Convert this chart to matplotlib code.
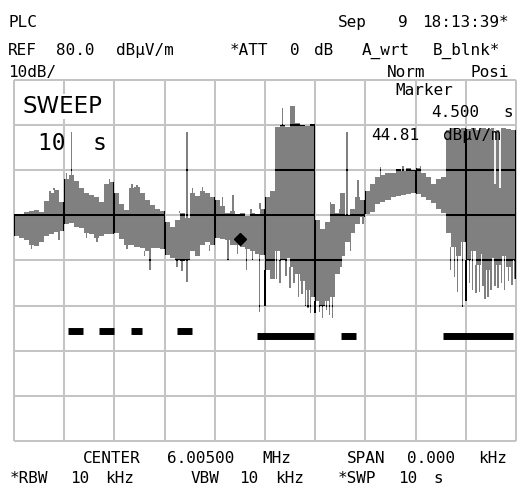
import re

import numpy as np
import matplotlib
matplotlib.use("Agg")
import matplotlib.pyplot as plt
from matplotlib.path import Path
from matplotlib.patches import PathPatch

W, H, DPI = 529, 486, 100

# zero-span sweep over 10 s, trace envelope in 0.1 s columns (dBuV/m)
COL_STEP = 0.1
col_top = [
    50.3, 50.2, 50.8, 51.0, 51.2, 50.8, 53.2, 55.0, 55.6, 53.0,
    58.0, 59.0, 57.6, 56.0, 55.0, 54.5, 54.0, 53.0, 57.0, 57.3,
    55.0, 52.5, 51.2, 56.0, 56.2, 55.0, 53.5, 52.4, 51.5, 51.0,
    48.5, 47.5, 49.0, 50.5, 49.5, 55.0, 54.2, 55.5, 55.0, 54.0,
    53.5, 52.0, 50.5, 51.0, 50.2, 50.5, 49.8, 50.5, 50.2, 51.5,
    54.0, 55.3, 69.5, 70.0, 69.6, 74.2, 70.4, 70.0, 69.8, 70.2,
    49.0, 47.0, 48.5, 52.5, 50.5, 55.0, 50.0, 51.5, 54.0, 53.5,
    55.5, 57.0, 58.5, 59.0, 59.5, 59.3, 60.2, 59.8, 60.5, 60.0,
    60.5, 59.5, 58.5, 57.0, 58.0, 58.5, 69.0, 69.3, 69.0, 69.3,
    69.2, 69.3, 69.0, 69.3, 69.2, 69.3, 69.0, 69.3, 69.2, 69.0,
]
col_bot = [
    45.5, 45.0, 44.5, 43.5, 43.2, 44.0, 45.4, 45.8, 46.4, 46.5,
    48.0, 48.2, 47.5, 47.2, 46.2, 45.8, 45.0, 45.5, 45.8, 45.8,
    46.0, 44.8, 43.5, 43.5, 43.0, 42.8, 42.0, 42.8, 42.8, 42.5,
    41.3, 40.6, 40.0, 39.9, 40.2, 42.0, 41.0, 43.5, 44.0, 43.5,
    45.0, 44.8, 44.5, 43.5, 43.5, 43.0, 42.5, 42.0, 41.5, 41.3,
    38.0, 36.0, 42.0, 40.0, 40.5, 38.5, 37.0, 35.5, 33.5, 32.0,
    31.0, 30.0, 31.0, 32.0, 37.0, 41.0, 44.0, 46.0, 48.0, 49.6,
    50.2, 50.8, 52.5, 53.0, 53.5, 54.0, 54.2, 54.5, 54.8, 55.0,
    54.8, 54.0, 53.5, 52.8, 51.5, 50.5, 46.0, 43.0, 41.0, 44.0,
    40.0, 42.0, 39.0, 41.5, 38.0, 40.5, 39.0, 41.0, 38.5, 40.0,
]

# single-sample glitches above / below the envelope
spike_up_t = [0.72, 0.80, 1.05, 1.15, 1.90, 2.35, 2.45, 3.30, 3.45, 3.55,
              3.75, 4.15, 4.36, 4.72, 4.90, 5.35, 6.30, 6.48, 6.63, 6.85,
              7.30, 7.75, 8.10]
spike_up_db = [55.4, 56.0, 59.5, 68.5, 58.0, 57.0, 56.8, 51.0, 68.5, 56.0,
               56.2, 54.0, 54.6, 51.5, 52.7, 73.7, 53.0, 51.5, 68.5, 57.8,
               60.8, 61.0, 61.0]
spike_dn_t = [0.35, 0.90, 1.45, 1.65, 2.25, 2.60, 2.71, 3.25, 3.35, 3.45,
              3.90, 4.26, 4.45, 4.63, 4.75, 4.89, 5.00, 5.23, 5.30, 5.42,
              5.50, 5.58, 5.67, 5.74, 5.81, 5.86, 5.91, 6.00, 6.08, 6.14,
              6.22, 6.28, 6.35, 6.51, 6.70, 6.95, 8.70, 8.77, 8.84, 8.94,
              9.00, 9.07, 9.13, 9.20, 9.27, 9.34, 9.38, 9.44, 9.50, 9.58,
              9.64, 9.71, 9.77, 9.85, 9.92, 9.98]
spike_dn_db = [42.5, 44.5, 45.0, 44.0, 42.5, 41.0, 37.9, 38.5, 37.6, 35.2,
               42.0, 40.0, 41.5, 38.0, 40.0, 28.6, 30.0, 36.0, 35.0, 36.5,
               34.0, 35.0, 31.9, 32.5, 30.0, 29.5, 28.3, 28.3, 28.5, 27.2,
               29.0, 28.0, 27.2, 38.5, 42.0, 48.0, 38.0, 36.4, 33.0, 29.7,
               31.0, 35.0, 33.5, 32.7, 33.0, 34.3, 31.5, 32.0, 33.5, 34.3,
               34.0, 35.0, 33.5, 35.5, 34.5, 36.0]
# drop-outs inside the last burst
notch_t = [9.58, 9.69]
notch_db = [57.0, 56.0]

marker_t = 4.5
marker_db = 44.81

# PLC on-periods
bar_start = [1.07, 1.69, 2.34, 3.24, 4.85, 6.51, 8.55]
bar_end = [1.37, 2.00, 2.54, 3.55, 5.98, 6.81, 9.95]
bar_db = [24.3, 24.3, 24.3, 24.3, 23.3, 23.3, 23.3]

GRID_LIGHT = "#c4c4c4"
TRACE = "#808080"
GRID_LW = 1.45
SPIKE_HW = 0.014
PITCH = 11.95  # px per character cell of the screen font
FONT_SIZE = 11.5

fig = plt.figure(figsize=(W / DPI, H / DPI), dpi=DPI)
fig.patch.set_facecolor("white")
ax = fig.add_axes([14 / W, 45 / H, 502 / W, 361 / H])
ax.set_xlim(0, 10)
ax.set_ylim(0, 80)
ax.set_xticks([])
ax.set_yticks([])
for sp in ax.spines.values():
    sp.set_visible(False)

gx = np.arange(0, 11)
gy = np.arange(0, 81, 10)
ax.vlines(gx, 0, 80, colors=GRID_LIGHT, lw=GRID_LW, zorder=1, clip_on=False)
ax.hlines(gy, 0, 10, colors=GRID_LIGHT, lw=GRID_LW, zorder=1, clip_on=False)

# trace as one compound path of non-overlapping rectangles
verts, codes = [], []


def add_rect(x0, x1, y0, y1):
    verts.extend([(x0, y0), (x1, y0), (x1, y1), (x0, y1), (x0, y0)])
    codes.extend([Path.MOVETO, Path.LINETO, Path.LINETO, Path.LINETO,
                  Path.CLOSEPOLY])


def col_of(t):
    return min(int(np.floor(t / COL_STEP + 1e-6)), len(col_top) - 1)


for i, (hi, lo) in enumerate(zip(col_top, col_bot)):
    add_rect(i * COL_STEP, (i + 1) * COL_STEP, lo, hi)
for t, db in zip(spike_up_t, spike_up_db):
    top = col_top[col_of(t)]
    if db > top:
        add_rect(t - SPIKE_HW, t + SPIKE_HW, top, db)
for t, db in zip(spike_dn_t, spike_dn_db):
    bot = col_bot[col_of(t)]
    if db < bot:
        add_rect(t - SPIKE_HW, t + SPIKE_HW, db, bot)

trace = PathPatch(Path(verts, codes), facecolor=TRACE, edgecolor="none",
                  transform=ax.transData, zorder=2)
ax.add_patch(trace)

# grid turns black where the trace covers it
bv = ax.vlines(gx, 0, 80, colors="black", lw=GRID_LW, zorder=3)
bh = ax.hlines(gy, 0, 10, colors="black", lw=GRID_LW, zorder=3)
bv.set_clip_path(trace)
bh.set_clip_path(trace)

ax.vlines(notch_t, notch_db, [col_top[col_of(t)] for t in notch_t],
          colors="white", lw=1.3, zorder=4)

ax.plot(marker_t, marker_db, "D", ms=6.6, color="black", zorder=5)
ax.hlines(bar_db, bar_start, bar_end, colors="black", lw=5, zorder=5)


def put(x, y, s, size=FONT_SIZE):
    """Screen text on a fixed character grid; each word starts in its cell."""
    for m in re.finditer(r"\S+", s):
        fig.text((x + m.start() * PITCH) / W, 1 - y / H, m.group(),
                 fontsize=size, family="DejaVu Sans Mono", color="black",
                 va="baseline", ha="left")


def put_right(x_end, y, s, size=FONT_SIZE):
    put(x_end - len(s) * PITCH, y, s, size)


put(8, 27, "PLC")
put(338, 27, "Sep  9 18:13:39*")
put(8, 55, "REF 80.0 dB\u03bcV/m")
put(230, 55, "*ATT 0 dB  A_wrt B_blnk*")
put(8, 77, "10dB/")
put(387, 77, "Norm")
put(470, 77, "Posi")
put(395, 95, "Marker")
put_right(515, 117, "4.500 s")
put_right(515, 140, "44.81 dB\u03bcV/m")
put(83, 463, "CENTER 6.00500 MHz")
put(347, 463, "SPAN 0.000 kHz")
put(10, 483, "*RBW 10 kHz")
put(191, 483, "VBW 10 kHz")
put(338, 483, "*SWP 10 s")

fig.text(22 / W, 1 - 113 / H, "SWEEP", fontsize=16.5, family="DejaVu Sans",
         va="baseline", ha="left",
         bbox=dict(facecolor="white", edgecolor="none", pad=0.5))
fig.text(38 / W, 1 - 150 / H, "10  s", fontsize=16.5,
         family="DejaVu Sans Mono", va="baseline", ha="left")

fig.savefig("out.png", dpi=DPI, facecolor="white")
